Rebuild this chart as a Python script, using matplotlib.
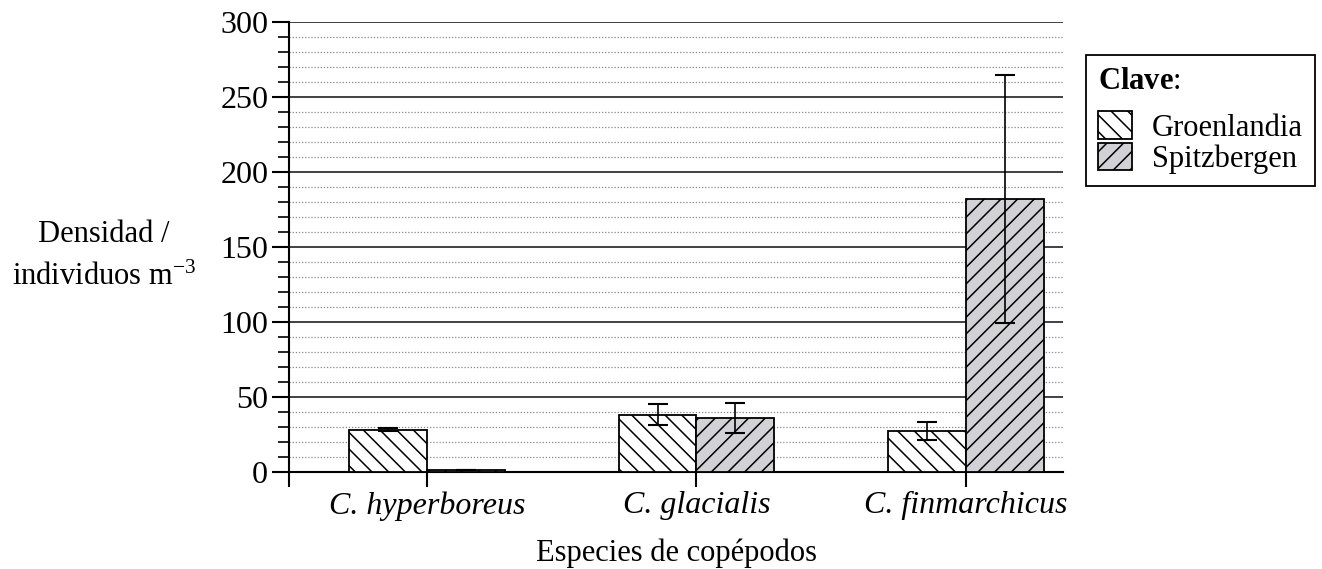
import numpy as np
import matplotlib.pyplot as plt

plt.rcParams['font.family'] = ['Liberation Serif', 'DejaVu Serif']
plt.rcParams['mathtext.fontset'] = 'custom'
plt.rcParams['mathtext.rm'] = 'Liberation Serif'
plt.rcParams['mathtext.it'] = 'Liberation Serif:italic'
plt.rcParams['mathtext.bf'] = 'Liberation Serif:bold'
plt.rcParams['hatch.linewidth'] = 1.1

# data
species = ['C. hyperboreus', 'C. glacialis', 'C. finmarchicus']
groenlandia = [28, 38, 27]
groenlandia_err = [1, 7, 6]
spitzbergen = [1, 36, 182]
spitzbergen_err = [0, 10, 83]

fig = plt.figure(figsize=(13.22, 5.69), dpi=100)
ax = fig.add_axes([0.2186, 0.1705, 0.8041 - 0.2186, 0.9613 - 0.1705])

x = np.arange(len(species))
w = 0.288
ax.bar(x - w / 2, groenlandia, w, color='white', edgecolor='black',
       hatch='\\\\', linewidth=1.3, zorder=3)
ax.bar(x + w / 2, spitzbergen, w, color='#d2d2d6', edgecolor='black',
       hatch='//', linewidth=1.3, zorder=3)
ax.errorbar(x - w / 2, groenlandia, yerr=groenlandia_err, fmt='none',
            ecolor='black', elinewidth=1.2, capsize=7, capthick=1.5, zorder=4)
ax.errorbar(x + w / 2, spitzbergen, yerr=spitzbergen_err, fmt='none',
            ecolor='black', elinewidth=1.2, capsize=7, capthick=1.5, zorder=4)

ax.set_xlim(-0.512, 2.36)
ax.set_ylim(0, 300)
ax.set_yticks(np.arange(0, 301, 50))
ax.set_yticks(np.arange(0, 301, 10), minor=True)
ax.grid(axis='y', which='major', color='#333333', linewidth=1.3, zorder=0)
ax.grid(axis='y', which='minor', color='#888888', linewidth=0.9,
        linestyle=(0, (1, 1.5)), zorder=0)
ax.tick_params(axis='y', which='major', length=12, width=1.5, labelsize=23, pad=3)
ax.tick_params(axis='y', which='minor', length=8, width=1.2)
ax.set_xticks(x)
ax.set_xticklabels(species, fontsize=23, style='italic')
ax.set_xticks([-0.512], minor=True)
ax.tick_params(axis='x', which='both', length=11, width=1.5, pad=3)
for s in ['top', 'right']:
    ax.spines[s].set_visible(False)
ax.spines['left'].set_linewidth(1.5)
ax.spines['bottom'].set_linewidth(1.5)

ax.set_xlabel('Especies de copépodos', fontsize=22, labelpad=13)
fig.text(104 / 1322, 1 - 256 / 569, 'Densidad /\nindividuos m$^{-3}$',
         ha='center', va='center', fontsize=22, linespacing=1.6)

leg = fig.legend(handles=ax.patches[:1] + ax.patches[3:4],
                 labels=['Groenlandia', 'Spitzbergen'],
                 title=r'$\bf{Clave}$:', loc='upper left',
                 bbox_to_anchor=(1086 / 1322, 1 - 55 / 569), borderaxespad=0,
                 fontsize=22, title_fontsize=22, fancybox=False,
                 edgecolor='black', framealpha=1, handlelength=1.1,
                 handleheight=1.0, handletextpad=0.65, borderpad=0.4,
                 labelspacing=0.0)
leg._legend_box.align = 'left'
leg._legend_box.sep = 11
leg.get_frame().set_linewidth(1.3)

fig.savefig('out.png', dpi=100)
